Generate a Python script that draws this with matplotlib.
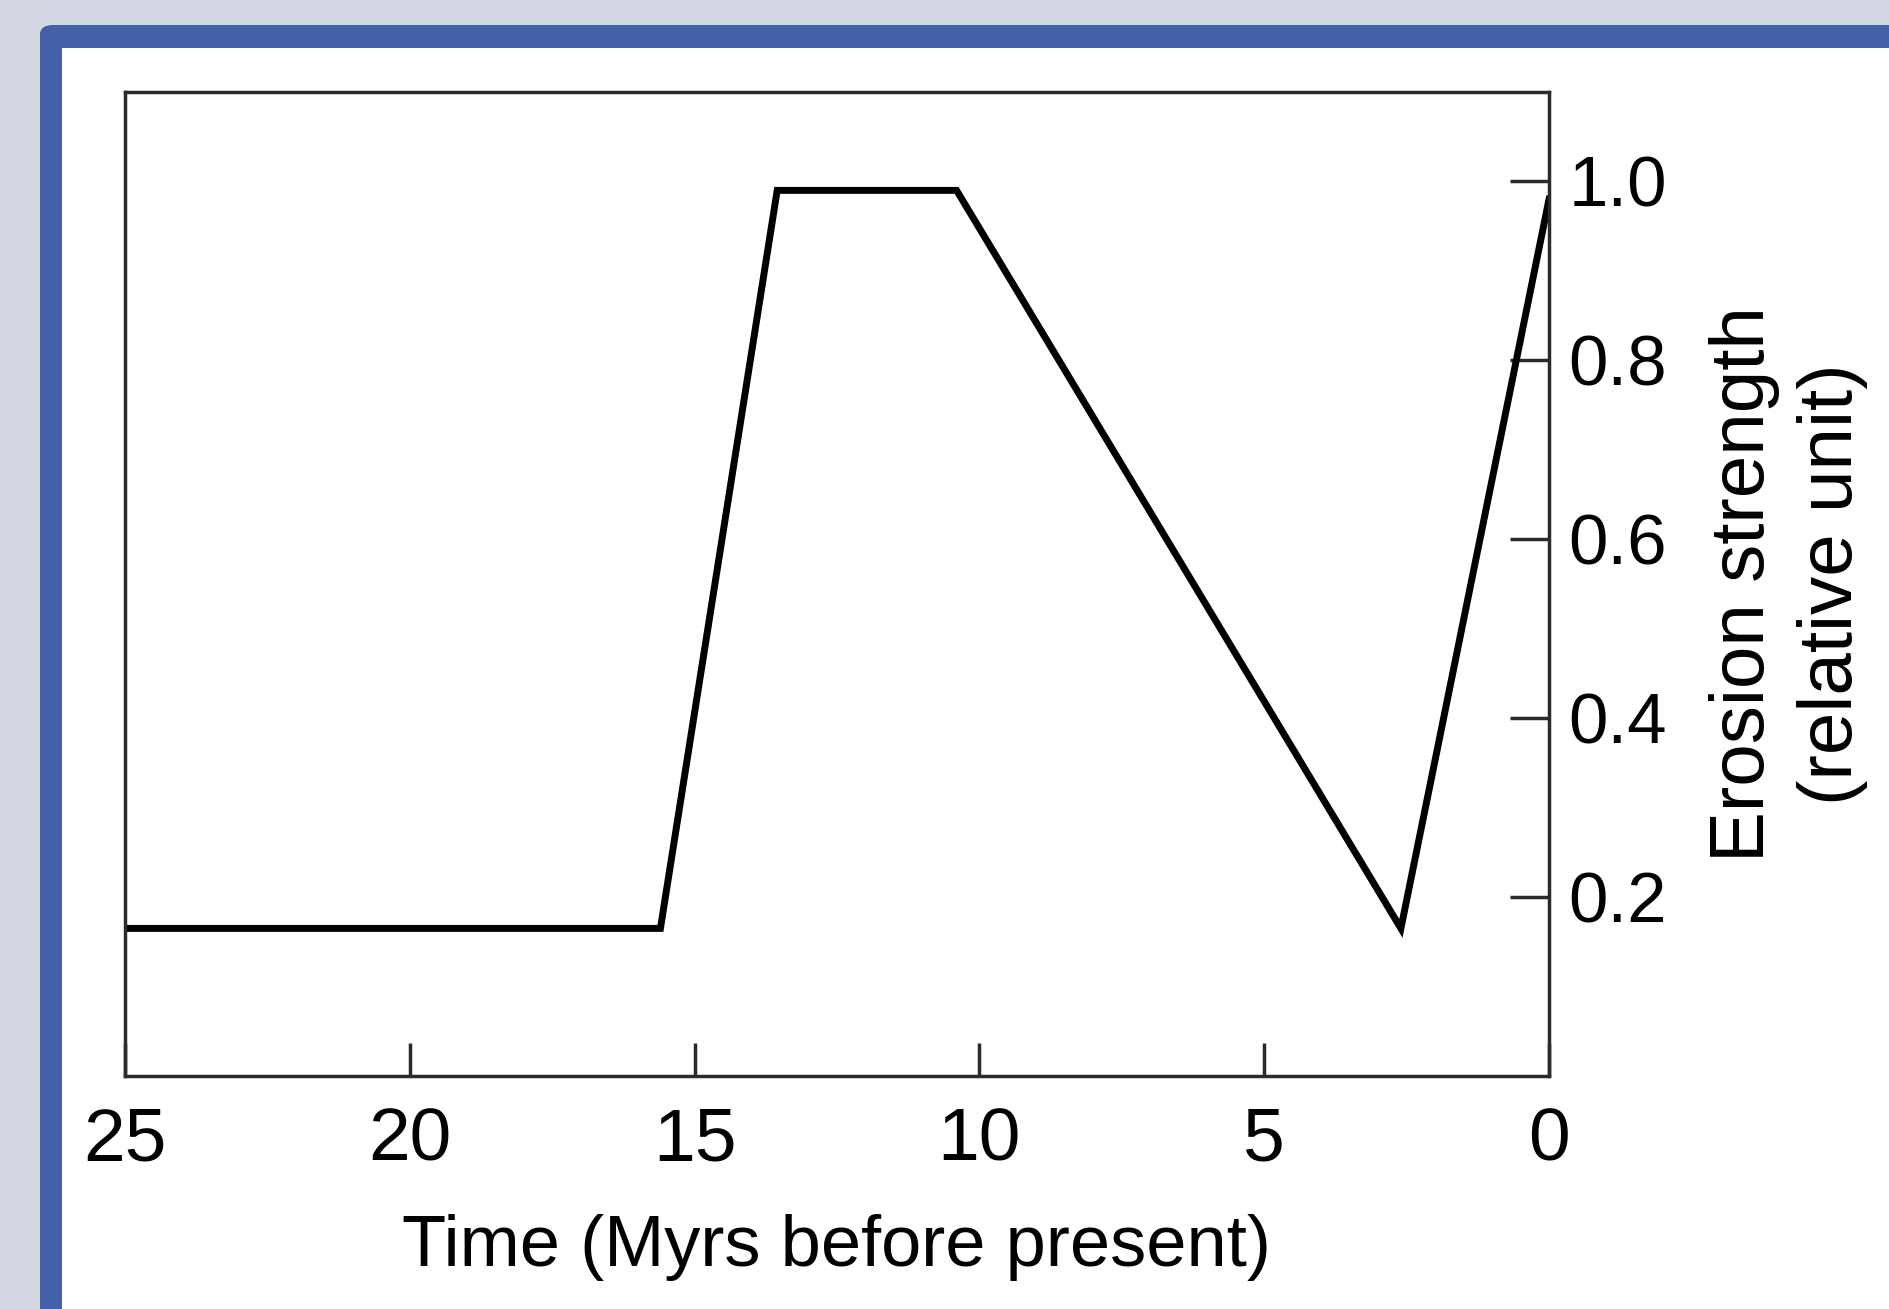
"""
Erosion strength through time (Myrs before present), recreated with matplotlib.

A piecewise-linear history: low and steady, a sharp rise near 15 Myr, a plateau,
a long decline to ~2.6 Myr, then a fast rise up to the present. Drawn inside a
blue rounded frame, like the slide it came from.
"""
import matplotlib
matplotlib.use("Agg")
import matplotlib.pyplot as plt
from matplotlib.patches import FancyBboxPatch, Rectangle

plt.rcParams["font.family"] = ["Liberation Sans", "DejaVu Sans"]

# === DATA ===================================================================
time_myr = [25.0, 15.6, 13.55, 10.4, 2.6, 0.0]          # Myrs before present
erosion = [0.165, 0.165, 0.99, 0.99, 0.165, 0.98]       # relative unit

x_ticks = [25, 20, 15, 10, 5, 0]
y_ticks = [0.2, 0.4, 0.6, 0.8, 1.0]
y_tick_labels = ["0.2", "0.4", "0.6", "0.8", "1.0"]

# === FIGURE + FRAME =========================================================
W, H = 1890, 1309
fig = plt.figure(figsize=(W / 100, H / 100), dpi=100)
fig.patch.set_facecolor("#d3d8e3")

# blue rounded frame, cut off at the right and bottom edges (behind the axes)
frame = FancyBboxPatch((40 / W, -0.05), 1.1, (H - 25) / H + 0.05,
                       boxstyle="round,pad=0,rounding_size=0.007",
                       transform=fig.transFigure, facecolor="#4261a9",
                       edgecolor="none", zorder=-2)
fig.patches.append(frame)
inner = Rectangle((62 / W, -0.05), 1.1, (H - 48) / H + 0.05,
                  transform=fig.transFigure, facecolor="white",
                  edgecolor="none", zorder=-1)
fig.patches.append(inner)

# === AXES ===================================================================
ax = fig.add_axes([125 / W, (H - 1076) / H, (1549 - 125) / W, (1076 - 92) / H])
ax.set_facecolor("white")
ax.plot(time_myr, erosion, color="black", lw=5, solid_joinstyle="miter")

ax.set_xlim(25, 0)
ax.set_ylim(0, 1.1)
ax.set_xticks(x_ticks)
ax.set_xticklabels([str(t) for t in x_ticks])
ax.set_yticks(y_ticks)
ax.set_yticklabels(y_tick_labels)

ax.yaxis.tick_right()
ax.yaxis.set_label_position("right")
for s in ax.spines.values():
    s.set_linewidth(2.5)
    s.set_color("#2b2b2b")

ax.tick_params(axis="x", direction="in", length=24, width=2.5, color="#2b2b2b",
               labelsize=54, pad=22)
ax.tick_params(axis="y", direction="in", length=28, width=2.5, color="#2b2b2b",
               labelsize=51, pad=14, right=True, left=False)

ax.set_xlabel("Time (Myrs before present)", fontsize=52, labelpad=28)
ax.set_ylabel("Erosion strength\n(relative unit)", fontsize=55, labelpad=30,
              rotation=90, linespacing=1.32)

fig.savefig("out.png", dpi=100, facecolor=fig.get_facecolor())
